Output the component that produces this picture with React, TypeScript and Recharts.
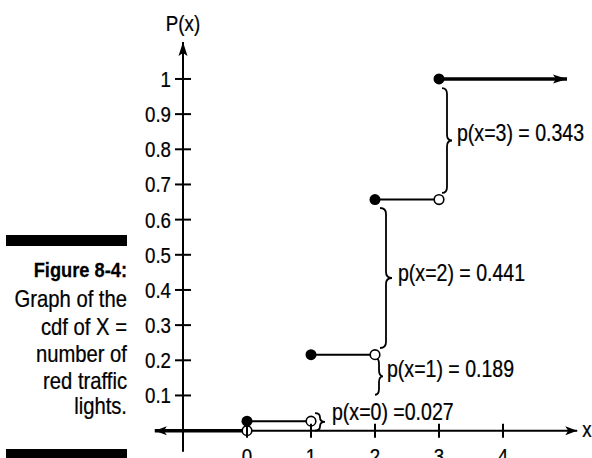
import React from 'react';
import { ComposedChart, Line, Scatter, XAxis, YAxis, ReferenceLine, ReferenceDot } from 'recharts';

// axis ticks
const xTicks = [0, 1, 2, 3, 4];
const yTicks = [0.1, 0.2, 0.3, 0.4, 0.5, 0.6, 0.7, 0.8, 0.9, 1];
const yTickLabels = ['0.1', '0.2', '0.3', '0.4', '0.5', '0.6', '0.7', '0.8', '0.9', '1'];

// cdf steps: each level starts (closed dot) at stepStart and runs to stepEnd (open dot)
const stepStart = [0, 1, 2, 3];
const stepEnd = [1, 2, 3, 5];
const cdfLevels = [0.027, 0.216, 0.657, 1];
const openDots = [
  { x: 0, y: 0 },
  { x: 1, y: 0.027 },
  { x: 2, y: 0.216 },
  { x: 3, y: 0.657 },
];

// axis extents (data units)
const xAxisExtent = [-1.44, 5.16];
const yAxisExtent = [-0.06, 1.105];

// brace annotations
const braceAt = [1, 2, 2, 3];
const braceLow = [0, 0.102, 0.235, 0.676];
const braceHigh = [0.05, 0.207, 0.633, 0.974];
const braceLabelY = [0.054, 0.176, 0.449, 0.847];
const braceLabels = ['p(x=0) =0.027', 'p(x=1) = 0.189', 'p(x=2) = 0.441', 'p(x=3) = 0.343'];

const captionLines = ['Graph of the', 'cdf of X =', 'number of', 'red traffic', 'lights.'];

// layout
const W = 592;
const H = 458;
const MARGIN = { top: 35, right: 9, bottom: 0, left: 150 };
const X_DOMAIN = [-1.5, 5.25];
const Y_DOMAIN = [-0.075, 1.125];
const PLOT_LEFT = MARGIN.left + 1;
const PLOT_W = W - MARGIN.right - PLOT_LEFT;
const PLOT_TOP = MARGIN.top;
const PLOT_H = H - MARGIN.bottom - 1 - PLOT_TOP;
const AXIS_X = PLOT_LEFT + ((-1 - X_DOMAIN[0]) / (X_DOMAIN[1] - X_DOMAIN[0])) * PLOT_W;
const AXIS_Y = PLOT_TOP + ((Y_DOMAIN[1] - 0) / (Y_DOMAIN[1] - Y_DOMAIN[0])) * PLOT_H;

const FONT = "'Liberation Sans', Arial, sans-serif";
const INK = '#000';

// pixel offsets of each brace relative to its x position
const BRACE_BASE = [4, 0, 5, 3];
const BRACE_TIP = [14, 8, 17, 13];
const LABEL_GAP = [21, 12, 23, 18];

// condensed-looking text (horizontal squeeze of a regular face)
const CText = ({ x, y, size, anchor = 'start', weight = 'normal', sx = 0.85, dy, children }: any) => (
  <text
    transform={`translate(${x},${y}) scale(${sx},1)`}
    x={0}
    y={0}
    dy={dy}
    fontSize={size}
    fontWeight={weight}
    fontFamily={FONT}
    fill={INK}
    stroke={INK}
    strokeWidth={0.25}
    textAnchor={anchor}
  >
    {children}
  </text>
);

const arrowHead = (tx: number, ty: number, dx: number, dy: number, len: number, half: number) => {
  const bx = tx - dx * len;
  const by = ty - dy * len;
  const nx = -dy;
  const ny = dx;
  const nbx = tx - dx * (len - 3);
  const nby = ty - dy * (len - 3);
  return (
    <polygon
      points={`${tx},${ty} ${bx + nx * half},${by + ny * half} ${nbx},${nby} ${bx - nx * half},${by - ny * half}`}
      fill={INK}
    />
  );
};

const bracePath = (bx: number, tx: number, top: number, bottom: number) => {
  const sx = (bx + tx) / 2;
  const mid = (top + bottom) / 2;
  const r = Math.min(6, (bottom - top) / 4);
  return `M${bx},${top} Q${sx},${top} ${sx},${top + r} L${sx},${mid - r} Q${sx},${mid} ${tx},${mid} Q${sx},${mid} ${sx},${mid + r} L${sx},${bottom - r} Q${sx},${bottom} ${bx},${bottom}`;
};

const YTick = (props: any) => {
  const { y, index } = props;
  return (
    <g>
      <line x1={AXIS_X - 8} x2={AXIS_X + 8} y1={y} y2={y} stroke={INK} strokeWidth={2} />
      <CText x={AXIS_X - 12} y={y} dy="0.36em" anchor="end" size={22}>
        {yTickLabels[index]}
      </CText>
    </g>
  );
};

const XTick = (props: any) => {
  const { x, payload } = props;
  return (
    <g>
      <line x1={x} x2={x} y1={AXIS_Y - 7} y2={AXIS_Y + 7} stroke={INK} strokeWidth={2} />
      <CText x={x} y={AXIS_Y + 33} anchor="middle" size={22}>
        {payload.value}
      </CText>
    </g>
  );
};

const CAPTION_BASELINES = [307, 335, 362, 389, 414];

const Caption = () => (
  <svg width={140} height={H} style={{ position: 'absolute', left: 0, top: 0 }}>
    <rect x={6} y={235} width={121} height={11} fill={INK} />
    <rect x={6} y={449} width={121} height={12} fill={INK} />
    <CText x={127} y={277} size={21} weight="bold" sx={0.87} anchor="end">
      Figure 8-4:
    </CText>
    {captionLines.map((line, i) => (
      <CText key={line} x={127} y={CAPTION_BASELINES[i]} size={23} sx={0.88} anchor="end">
        {line}
      </CText>
    ))}
  </svg>
);

export default function App() {
  const segments = stepStart.map((s, i) => [
    { x: s, y: cdfLevels[i] },
    { x: stepEnd[i], y: cdfLevels[i] },
  ]);
  const closedDots = stepStart.map((s, i) => ({ x: s, y: cdfLevels[i] }));
  const lastIdx = segments.length - 1;

  return (
    <div style={{ position: 'absolute', left: 0, top: 0, width: W, height: H, overflow: 'hidden', background: '#fff' }}>
      <Caption />
      <div style={{ position: 'absolute', left: 0, top: 0 }}>
        <ComposedChart width={W} height={H} margin={MARGIN}>
          <XAxis
            type="number"
            dataKey="x"
            domain={X_DOMAIN}
            ticks={xTicks}
            interval={0}
            tick={XTick}
            axisLine={false}
            tickLine={false}
            height={1}
            allowDataOverflow
          />
          <YAxis
            type="number"
            dataKey="y"
            domain={Y_DOMAIN}
            ticks={yTicks}
            interval={0}
            tick={YTick}
            axisLine={false}
            tickLine={false}
            width={1}
            allowDataOverflow
          />

          {/* x axis with arrows at both ends */}
          <ReferenceLine
            segment={[{ x: xAxisExtent[0], y: 0 }, { x: xAxisExtent[1], y: 0 }]}
            ifOverflow="visible"
            shape={(p: any) => (
              <g>
                <line x1={p.x1} y1={p.y1} x2={p.x2} y2={p.y2} stroke={INK} strokeWidth={2} />
                {arrowHead(p.x1, p.y1, -1, 0, 12, 4.5)}
                {arrowHead(p.x2, p.y2, 1, 0, 12, 4.5)}
              </g>
            )}
          />
          {/* y axis with arrow on top */}
          <ReferenceLine
            segment={[{ x: -1, y: yAxisExtent[0] }, { x: -1, y: yAxisExtent[1] }]}
            ifOverflow="visible"
            shape={(p: any) => (
              <g>
                <line x1={p.x1} y1={p.y1} x2={p.x2} y2={p.y2} stroke={INK} strokeWidth={2} />
                {arrowHead(p.x2, p.y2, 0, -1, 14, 4.5)}
              </g>
            )}
          />

          {/* cdf is 0 for x < 0 */}
          <Line
            data={[{ x: xAxisExtent[0], y: 0 }, { x: 0, y: 0 }]}
            dataKey="y"
            stroke={INK}
            strokeWidth={3.5}
            dot={false}
            isAnimationActive={false}
          />
          {segments.map((seg, i) => (
            <Line
              key={`seg-${i}`}
              data={seg}
              dataKey="y"
              stroke={INK}
              strokeWidth={i === lastIdx ? 3.5 : 2}
              isAnimationActive={false}
              dot={
                i === lastIdx
                  ? (p: any) =>
                      p.index === 1 ? (
                        <g key={`arrow-${p.index}`}>{arrowHead(p.cx, p.cy, 1, 0, 14, 4.5)}</g>
                      ) : (
                        <g key={`noarrow-${p.index}`} />
                      )
                  : false
              }
            />
          ))}

          {braceAt.map((at, i) => (
            <ReferenceLine
              key={`brace-${i}`}
              segment={[{ x: at, y: braceHigh[i] }, { x: at, y: braceLow[i] }]}
              ifOverflow="visible"
              shape={(p: any) => (
                <path
                  d={bracePath(p.x1 + BRACE_BASE[i], p.x1 + BRACE_TIP[i], Math.min(p.y1, p.y2), Math.max(p.y1, p.y2))}
                  fill="none"
                  stroke={INK}
                  strokeWidth={1.8}
                />
              )}
            />
          ))}
          {braceAt.map((at, i) => (
            <ReferenceDot
              key={`lbl-${i}`}
              x={at}
              y={braceLabelY[i]}
              ifOverflow="visible"
              shape={(p: any) => (
                <CText x={p.cx + LABEL_GAP[i]} y={p.cy} dy="0.36em" size={23}>
                  {braceLabels[i]}
                </CText>
              )}
            />
          ))}

          <Scatter
            data={openDots}
            isAnimationActive={false}
            shape={(p: any) => <circle cx={p.cx} cy={p.cy} r={4.8} fill="#fff" stroke={INK} strokeWidth={1.6} />}
          />
          <Scatter
            data={closedDots}
            isAnimationActive={false}
            shape={(p: any) => <circle cx={p.cx} cy={p.cy} r={5.5} fill={INK} />}
          />

          {/* axis titles */}
          <ReferenceDot
            x={-1}
            y={1.16}
            ifOverflow="visible"
            shape={(p: any) => (
              <CText x={p.cx} y={p.cy} dy="0.36em" anchor="middle" size={22}>
                P(x)
              </CText>
            )}
          />
          <ReferenceDot
            x={5.31}
            y={0}
            ifOverflow="visible"
            shape={(p: any) => (
              <CText x={p.cx} y={p.cy} dy="0.3em" anchor="middle" size={22}>
                x
              </CText>
            )}
          />
        </ComposedChart>
      </div>
    </div>
  );
}
